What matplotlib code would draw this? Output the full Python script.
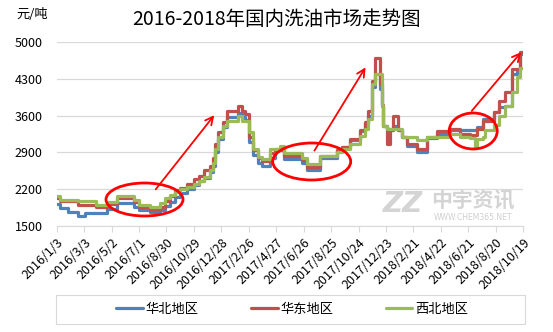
import matplotlib
matplotlib.use("Agg")
import matplotlib.pyplot as plt
import pandas as pd
from matplotlib.patches import Ellipse, Rectangle

plt.rcParams['font.family'] = ['Noto Sans CJK SC', 'DejaVu Sans']

title = "2016-2018年国内洗油市场走势图"
unit = "元/吨"
series_names = ["华北地区", "华东地区", "西北地区"]
colors = ["#4F81BD", "#C0504D", "#9BBB59"]

# price change dates (each price holds until the next date)
dates = [
    "2016-01-03", "2016-01-11", "2016-01-28", "2016-02-19", "2016-03-05", "2016-03-30",
    "2016-04-21", "2016-05-14", "2016-06-19", "2016-07-01", "2016-07-25", "2016-08-16",
    "2016-08-27", "2016-09-07", "2016-09-17", "2016-09-29", "2016-10-14", "2016-10-29",
    "2016-11-10", "2016-11-19", "2016-12-03", "2016-12-10", "2016-12-14", "2016-12-21",
    "2017-01-01", "2017-01-10", "2017-02-03", "2017-02-11", "2017-02-18", "2017-02-26",
    "2017-03-08", "2017-03-19", "2017-03-26", "2017-04-13", "2017-04-24", "2017-05-05",
    "2017-05-13", "2017-06-22", "2017-07-03", "2017-08-01", "2017-09-06", "2017-09-17",
    "2017-10-05", "2017-10-27", "2017-11-07", "2017-11-14", "2017-11-22", "2017-11-29",
    "2017-12-10", "2017-12-14", "2017-12-17", "2017-12-25", "2018-01-01", "2018-01-08",
    "2018-01-19", "2018-01-26", "2018-02-06", "2018-02-28", "2018-03-22", "2018-04-13",
    "2018-05-12", "2018-06-03", "2018-06-25", "2018-07-06", "2018-07-09", "2018-07-24",
    "2018-07-28", "2018-08-15", "2018-08-26", "2018-09-09", "2018-09-24", "2018-10-05",
    "2018-10-12", "2018-10-19",
]
huabei = [
    1920, 1850, 1765, 1690, 1745, 1745, 1820, 1940, 1870, 1800, 1760, 1800,
    1880, 1960, 2050, 2120, 2200, 2280, 2350, 2420, 2520, 2650, 2900, 3150,
    3380, 3580, 3640, 3580, 3520, 3100, 2850, 2700, 2650, 2800, 2950, 2950,
    2780, 2700, 2560, 2800, 2940, 3000, 3130, 3300, 3450, 3600, 4135, 4390,
    4100, 3790, 3400, 3350, 3316, 3400, 3330, 3190, 3030, 2905, 3180, 3250,
    3320, 3330, 3330, 3330, 3380, 3530, 3530, 3660, 3755, 3790, 4390, 4450,
    4770, 4770,
]
huadong = [
    2040, 1970, 1970, 1910, 1910, 1860, 1920, 2040, 1960, 1860, 1810, 1870,
    1980, 2080, 2180, 2230, 2300, 2400, 2460, 2560, 2640, 2800, 3050, 3280,
    3470, 3680, 3790, 3680, 3620, 3200, 2950, 2800, 2740, 2880, 2970, 2970,
    2840, 2760, 2620, 2840, 2940, 3010, 3160, 3316, 3475, 3695, 4260, 4700,
    4200, 3800, 3400, 3065, 3316, 3600, 3330, 3200, 3065, 2970, 3200, 3300,
    3350, 3250, 3230, 3230, 3350, 3505, 3505, 3660, 3885, 4040, 4485, 4485,
    4800, 4800,
]
xibei = [
    2080, 1990, 1990, 1970, 1970, 1910, 1960, 2070, 1990, 1910, 1870, 1930,
    2040, 2100, 2150, 2200, 2250, 2300, 2360, 2440, 2560, 2700, 2970, 3190,
    3400, 3500, 3600, 3500, 3500, 3280, 2970, 2810, 2780, 2970, 2970, 3030,
    2890, 2800, 2685, 2840, 2900, 2960, 3060, 3220, 3350, 3540, 4200, 4390,
    4390, 3790, 3410, 3350, 3350, 3350, 3350, 3190, 3190, 3127, 3190, 3200,
    3250, 3200, 3170, 3000, 3150, 3190, 3316, 3420, 3600, 3790, 4040, 4325,
    4510, 4510,
]

tick_dates = pd.date_range("2016-01-03", "2018-10-19", freq="60D")
y_ticks = [1500, 2200, 2900, 3600, 4300, 5000]

x = pd.to_datetime(dates)

fig = plt.figure(figsize=(5.53, 3.32), dpi=100)
ax = fig.add_axes([0.1025, 0.319, 0.8437, 0.555])

for vals, name, c in zip([huabei, huadong, xibei], series_names, colors):
    ax.plot(x, vals, drawstyle="steps-post", color=c, lw=2.3, label=name,
            solid_joinstyle="round", solid_capstyle="round")

ax.set_xlim(x[0], x[-1])
ax.set_ylim(1500, 5000)
ax.set_yticks(y_ticks)
ax.set_yticklabels([str(v) for v in y_ticks], fontsize=9)
ax.tick_params(axis="y", length=0, pad=10)
ax.yaxis.grid(True, color="#d9d9d9", lw=0.9)
ax.set_axisbelow(True)

ax.set_xticks(tick_dates)
ax.set_xticklabels([f"{d.year}/{d.month}/{d.day}" for d in tick_dates],
                   rotation=45, ha="right", va="top", rotation_mode="anchor", fontsize=9)
ax.tick_params(axis="x", length=4, color="#d9d9d9", pad=3)

for s in ["top", "right", "left"]:
    ax.spines[s].set_visible(False)
ax.spines["bottom"].set_color("#d9d9d9")

# red ellipses and arrows
def px(xp, yp):
    return fig.transFigure.inverted().transform(
        fig.dpi_scale_trans.transform((xp / 100, (332 - yp) / 100)))

for (cx, cy, w, h) in [(144.5, 199.5, 77, 33), (311.7, 161.5, 78, 37), (473.2, 131, 48, 36)]:
    c = px(cx, cy)
    fig.patches.append(Ellipse(c, w / 553, h / 332, transform=fig.transFigure,
                               fill=False, edgecolor="red", lw=2.0, zorder=5))

for (x0, y0, x1, y1) in [(154, 191.5, 216, 113), (313, 153, 367, 65), (470, 113, 523, 50)]:
    fig.add_artist(matplotlib.patches.FancyArrowPatch(
        px(x0, y0), px(x1, y1), transform=fig.transFigure, arrowstyle="->",
        mutation_scale=14, color="red", lw=1.3, zorder=6))

# watermark
fig.text(px(403, 0)[0], px(0, 204)[1], "ZZ", fontsize=20, fontweight="bold", style="italic",
         color="#d4d4d4", ha="center", va="center", family="DejaVu Sans")
fig.text(px(473, 0)[0], px(0, 201)[1], "中宇资讯", fontsize=15, fontweight="bold",
         color="#d4d4d4", ha="center", va="center")
fig.text(px(473, 0)[0], px(0, 217)[1], "WWW.CHEM365.NET", fontsize=5.5,
         color="#cfcfcf", ha="center", va="center", family="DejaVu Sans")

fig.text(0.5, 0.94, title, fontsize=14, ha="center", va="center")
fig.text(0.03, 0.955, unit, fontsize=9.5, ha="left", va="center")

# legend box
lx0, ly0 = px(56, 324)
lx1, ly1 = px(525, 295)
fig.patches.append(Rectangle((lx0, ly0), lx1 - lx0, ly1 - ly0, transform=fig.transFigure,
                             fill=False, edgecolor="#d9d9d9", lw=0.8))
handles, labels = ax.get_legend_handles_labels()
fig.legend(handles, labels, loc="center", bbox_to_anchor=((lx0 + lx1) / 2 + 0.003, (ly0 + ly1) / 2),
           ncol=3, frameon=False, fontsize=9.5, handlelength=2.0, handletextpad=0.2,
           columnspacing=4.0)

fig.savefig("out.png", dpi=100)
